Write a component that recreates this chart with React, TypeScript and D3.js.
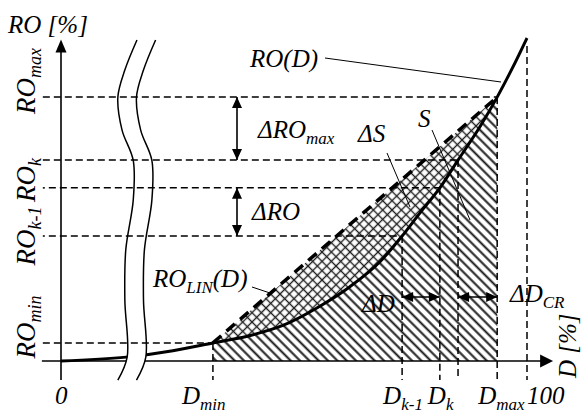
import * as d3 from "d3";

// RO(D) curve (D and RO in %)
const curveD = [0, 14, 24, 32.6, 40.6, 47.6, 55, 62, 68.5, 73.2, 77, 81.3, 85.2, 89.9, 93.6, 96.8, 100];
const curveRO = [0, 1.2, 3.2, 5.6, 7.9, 11, 16.5, 23, 30.8, 38.7, 45.8, 53.6, 62.2, 72.5, 81.7, 90.5, 100];

// vertical guides: D_min, D_k-1, D_k, D_max-ΔD_CR, D_max, 100
const markD = [32.6, 73.2, 81.3, 85.2, 93.6, 100];
const markRO = [5.6, 38.7, 53.6, 62.2, 81.7, 97.5];
// horizontal guides: RO_min, RO_k-1, RO_k, RO(D_max-ΔD_CR), RO_max
const levelRO = [5.6, 38.7, 53.6, 62.2, 81.7];

// x tick labels [main, subscript]
const xTickD = [0, 32.6, 73.2, 81.3, 93.6, 100];
const xTickText = [["0", ""], ["D", "min"], ["D", "k-1"], ["D", "k"], ["D", "max"], ["100", ""]];
const xTickDx = [-6, -31, -19, -12, -19, 0];

// y tick labels (rotated)
const yTickText = [["RO", "max"], ["RO", "k"], ["RO", "k-1"], ["RO", "min"]];
const yTickCenter = [81, 180, 236, 327];

// axis break (S-shaped cut)
const breakD = [16.3, 13.7, 12.2, 13.1, 15.5, 15.5, 13.9, 13.7, 14.2, 12.2];
const breakRO = [99.4, 90.1, 81.7, 71.5, 62.1, 49.8, 34.4, 18.9, 1.2, -5.9];
const breakGap = 4.0;

const FONT = "'Liberation Serif', 'Times New Roman', serif";

function head(tx: number, ty: number, dx: number, dy: number, len = 11, w = 5) {
  const n = Math.hypot(dx, dy);
  const ux = dx / n, uy = dy / n;
  const bx = tx - ux * len, by = ty - uy * len;
  return `${tx},${ty} ${bx - uy * w},${by + ux * w} ${bx + uy * w},${by - ux * w}`;
}

function DoubleArrow({ x1, y1, x2, y2 }: { x1: number; y1: number; x2: number; y2: number }) {
  return (
    <g>
      <line x1={x1} y1={y1} x2={x2} y2={y2} stroke="#000" strokeWidth={1.6} />
      <polygon points={head(x1, y1, x1 - x2, y1 - y2)} fill="#000" />
      <polygon points={head(x2, y2, x2 - x1, y2 - y1)} fill="#000" />
    </g>
  );
}

export default function App() {
  const width = 583;
  const height = 413;
  const x = d3.scaleLinear([0, 100], [61, 527]);
  const y = d3.scaleLinear([0, 100], [361, 38]);

  const pts = curveD.map((d, i) => [d, curveRO[i]] as [number, number]);
  const line = d3
    .line<[number, number]>()
    .x((p) => x(p[0]))
    .y((p) => y(p[1]))
    .curve(d3.curveMonotoneX);
  const area = d3
    .area<[number, number]>()
    .x((p) => x(p[0]))
    .y0(y(0))
    .y1((p) => y(p[1]))
    .curve(d3.curveMonotoneX);

  const dMin = markD[0], dMax = markD[4];
  const roMin = levelRO[0], roMax = levelRO[4];
  const linPath = `M${x(dMin)},${y(roMin)}L${x(dMax)},${y(roMax)}`;
  const underLin = `M${x(dMin)},${y(roMin)}L${x(dMax)},${y(roMax)}L${x(dMax)},${y(0)}L${x(dMin)},${y(0)}Z`;

  const bl = breakD.map((d, i) => [d, breakRO[i]] as [number, number]);
  const br = breakD.map((d, i) => [d + breakGap, breakRO[i]] as [number, number]);
  const bLine = d3
    .line<[number, number]>()
    .x((p) => x(p[0]))
    .y((p) => y(p[1]))
    .curve(d3.curveCatmullRom);
  const leftPath = bLine(bl) as string;
  const rightPath = bLine(br) as string;
  const fillPath = leftPath + "L" + (bLine([...br].reverse()) as string).slice(1) + "Z";

  const axisLeft = x(-4.1);
  const axisBottom = y(-5.9);
  const guideStart = x(-3.9);

  return (
    <svg
      width={width}
      height={height}
      style={{ position: "absolute", left: 0, top: 0, background: "#fff", fontFamily: FONT, fontStyle: "italic" }}
    >
      <defs>
        <pattern id="hatch" patternUnits="userSpaceOnUse" width={6.6} height={6.6} patternTransform="rotate(45)">
          <rect width={6.6} height={6.6} fill="#fff" />
          <line x1={0} y1={3.3} x2={6.6} y2={3.3} stroke="#1a1a1a" strokeWidth={2} />
        </pattern>
        <pattern id="cross" patternUnits="userSpaceOnUse" width={6.6} height={6.6} patternTransform="rotate(45)">
          <rect width={6.6} height={6.6} fill="#fff" />
          <line x1={0} y1={3.3} x2={6.6} y2={3.3} stroke="#222" strokeWidth={1.4} />
          <line x1={3.3} y1={0} x2={3.3} y2={6.6} stroke="#222" strokeWidth={1.4} />
        </pattern>
        <clipPath id="sclip">
          <rect x={x(dMin)} y={0} width={x(dMax) - x(dMin)} height={y(0)} />
        </clipPath>
      </defs>

      {/* ΔS and S regions */}
      <path d={underLin} fill="url(#cross)" />
      <path d={area(pts) as string} fill="url(#hatch)" clipPath="url(#sclip)" />

      {/* axes */}
      <line x1={axisLeft} y1={y(0)} x2={x(104)} y2={y(0)} stroke="#000" strokeWidth={1.6} />
      <polygon points={head(x(105.6), y(0), 1, 0, 13, 6.5)} fill="#000" />
      <line x1={x(0)} y1={axisBottom} x2={x(0)} y2={y(97)} stroke="#000" strokeWidth={1.6} />
      <polygon points={head(x(0), y(99.5), 0, -1, 13, 5.5)} fill="#000" />

      {/* RO(D) */}
      <path d={line(pts) as string} fill="none" stroke="#000" strokeWidth={3} />

      {/* axis break */}
      <path d={fillPath} fill="#fff" />
      <path d={leftPath} fill="none" stroke="#000" strokeWidth={1.5} />
      <path d={rightPath} fill="none" stroke="#000" strokeWidth={1.5} />

      {/* horizontal guides */}
      {levelRO.map((r, i) => (
        <g key={"h" + i}>
          {(i === 1 || i === 2) && (
            <line x1={guideStart} y1={y(r)} x2={guideStart + 2} y2={y(r)} stroke="#000" strokeWidth={1.5} />
          )}
          <line
            x1={i === 1 || i === 2 ? guideStart + 6 : guideStart}
            y1={y(r)}
            x2={x(markD[i])}
            y2={y(r)}
            stroke="#000"
            strokeWidth={1.5}
            strokeDasharray="7,4"
          />
        </g>
      ))}

      {/* vertical guides */}
      {markD.map((d, i) => (
        <line
          key={"v" + i}
          x1={x(d)}
          y1={y(markRO[i])}
          x2={x(d)}
          y2={axisBottom}
          stroke="#000"
          strokeWidth={1.5}
          strokeDasharray="7,4"
        />
      ))}

      {/* RO_LIN(D) */}
      <path d={linPath} fill="none" stroke="#000" strokeWidth={3.5} strokeDasharray="11,7" />

      {/* arrows */}
      <DoubleArrow x1={237} y1={y(roMax)} x2={237} y2={y(levelRO[3])} />
      <DoubleArrow x1={237} y1={y(levelRO[2])} x2={237} y2={y(levelRO[1])} />
      <DoubleArrow x1={x(markD[1])} y1={297} x2={x(markD[2])} y2={297} />
      <DoubleArrow x1={x(markD[3])} y1={297} x2={x(markD[4])} y2={297} />

      {/* leaders */}
      <g stroke="#000" strokeWidth={1}>
        <line x1={325} y1={58} x2={501} y2={82} />
        <line x1={387} y1={153} x2={410} y2={207} />
        <line x1={432} y1={130} x2={470} y2={220} />
        <line x1={252} y1={287} x2={270} y2={293} />
      </g>

      {/* texts */}
      <g fontSize={25} fill="#000">
        <text x={8} y={33}>RO [%]</text>
        <text x={250} y={67}>RO(D)</text>
        <text x={258} y={138}>
          ΔRO<tspan fontSize={17} dy={6}>max</tspan>
        </text>
        <text x={358} y={142}>ΔS</text>
        <text x={418} y={127}>S</text>
        <text x={252} y={220}>ΔRO</text>
        <text x={153} y={287}>
          RO<tspan fontSize={17} dy={6}>LIN</tspan>
          <tspan dy={-6}>(D)</tspan>
        </text>
        <text x={362} y={312}>ΔD</text>
        <text x={510} y={302}>
          ΔD<tspan fontSize={17} dy={6}>CR</tspan>
        </text>
        <text transform="translate(576,378) rotate(-90)">D [%]</text>

        {xTickD.map((d, i) => (
          <text key={"xt" + i} x={x(d) + xTickDx[i]} y={404}>
            {xTickText[i][0]}
            {xTickText[i][1] && (
              <tspan fontSize={17} dy={6}>
                {xTickText[i][1]}
              </tspan>
            )}
          </text>
        ))}

        {yTickText.map((t, i) => (
          <text
            key={"yt" + i}
            transform={`translate(35,${yTickCenter[i]}) rotate(-90)`}
            textAnchor="middle"
            fontSize={27}
          >
            {t[0]}
            <tspan fontSize={18} dy={6}>
              {t[1]}
            </tspan>
          </text>
        ))}
      </g>
    </svg>
  );
}
